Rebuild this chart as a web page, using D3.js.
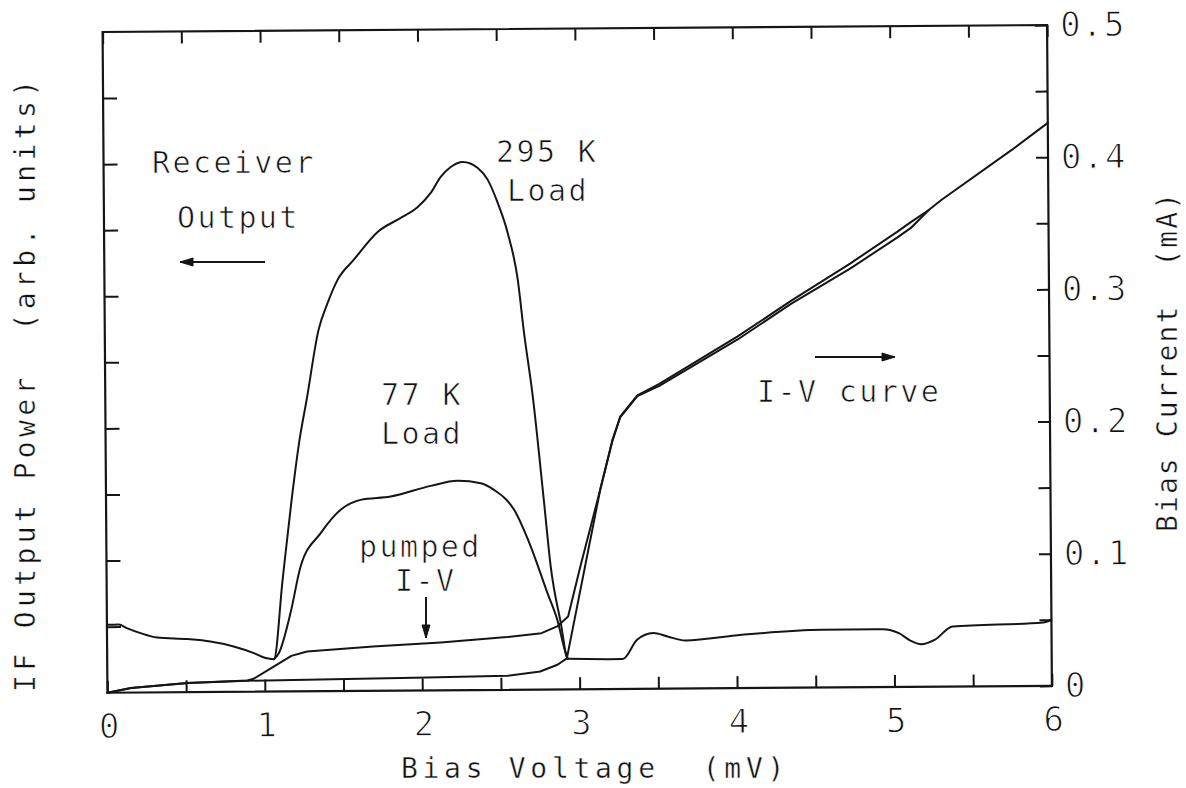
<!DOCTYPE html>
<html>
<head>
<meta charset="utf-8">
<script src="https://cdn.jsdelivr.net/npm/d3@7"></script>
<style>
  html, body { margin: 0; padding: 0; background: #fff; }
  svg { display: block; }
  text { font-family: "DejaVu Sans Mono", monospace; fill: #111; white-space: pre; stroke: #fff; stroke-width: 0.7px; }
  text.title { stroke-width: 0.4px; }
</style>
</head>
<body>
<svg id="chart" width="1186" height="788"></svg>
<script>
// ---------- data ----------
// Bias voltage ticks (mV) and right-axis current ticks (mA)
const xTickValues = [0, 0.5, 1, 1.5, 2, 2.5, 3, 3.5, 4, 4.5, 5, 5.5, 6];
const xTickLabels = ["0", "", "1", "", "2", "", "3", "", "4", "", "5", "", "6"];
const currentTickValues = [0, 0.05, 0.1, 0.15, 0.2, 0.25, 0.3, 0.35, 0.4, 0.45, 0.5];
const currentTickLabels = ["0", "", "0.1", "", "0.2", "", "0.3", "", "0.4", "", "0.5"];
const powerTickValues = [1, 2, 3, 4, 5, 6, 7, 8, 9];

// Unpumped I-V curve (mV, mA)
const ivBias = [0, 0.15, 0.51, 0.89, 2.03, 2.54, 2.75, 2.86, 2.92, 3.14, 3.22, 3.27, 3.38, 3.52, 4.02, 4.36, 4.74, 5.04, 5.13, 5.24, 5.32, 5.77, 6.0];
const ivCurrent = [0, 0.0034, 0.0069, 0.0083, 0.0098, 0.0106, 0.0137, 0.0187, 0.0235, 0.151, 0.188, 0.206, 0.222, 0.2306, 0.2661, 0.2927, 0.3208, 0.3445, 0.352, 0.3607, 0.3682, 0.4057, 0.426];

// Pumped I-V curve (mV, mA)
const pumpedBias = [0, 0.15, 0.51, 0.89, 0.93, 1.06, 1.17, 1.27, 1.69, 2.12, 2.54, 2.76, 2.86, 2.93, 3.01, 3.14, 3.22, 3.27, 3.38, 3.52, 4.02, 4.36, 4.74, 5.04, 5.13, 5.24];
const pumpedCurrent = [0, 0.0034, 0.0069, 0.0085, 0.0098, 0.019, 0.0269, 0.0301, 0.0335, 0.0362, 0.0399, 0.0427, 0.0477, 0.0551, 0.0929, 0.151, 0.1885, 0.2055, 0.2215, 0.2291, 0.2638, 0.2904, 0.317, 0.3402, 0.3477, 0.3607];

// Receiver IF output, 295 K load (mV, arb. units 0-10)
const hotBias = [0, 0.075, 0.126, 0.213, 0.318, 0.509, 0.657, 0.804, 0.932, 1.006, 1.059, 1.118, 1.179, 1.232, 1.279, 1.358, 1.417, 1.481, 1.584, 1.738, 1.885, 1.994, 2.077, 2.141, 2.205, 2.282, 2.377, 2.44, 2.502, 2.564, 2.626, 2.661, 2.716, 2.781, 2.822, 2.883, 2.926, 3.275, 3.367, 3.47, 3.561, 3.674, 4.031, 4.542, 4.928, 5.03, 5.103, 5.172, 5.257, 5.372, 5.947, 6.0];
const hotPower = [1.03, 1.03, 0.976, 0.899, 0.831, 0.803, 0.764, 0.687, 0.584, 0.507, 0.49, 1.69, 2.9, 3.805, 4.41, 5.468, 5.874, 6.222, 6.522, 6.944, 7.153, 7.318, 7.528, 7.769, 7.918, 7.993, 7.9, 7.719, 7.369, 6.914, 6.201, 5.445, 4.43, 2.87, 1.856, 1.008, 0.463, 0.452, 0.743, 0.843, 0.79, 0.726, 0.806, 0.873, 0.876, 0.814, 0.7, 0.644, 0.708, 0.908, 0.959, 1.0];

// Receiver IF output, 77 K load (mV, arb. units) - differs from 295 K only inside the gap region
const coldBias = [1.059, 1.091, 1.167, 1.233, 1.362, 1.49, 1.617, 1.808, 2.063, 2.233, 2.381, 2.465, 2.592, 2.696, 2.8, 2.861, 2.913, 2.926];
const coldPower = [0.49, 0.582, 1.189, 1.89, 2.392, 2.743, 2.891, 2.938, 3.095, 3.168, 3.13, 3.027, 2.723, 2.166, 1.458, 1.054, 0.549, 0.463];

// ---------- drawing ----------
const svg = d3.select("#chart");
svg.append("rect").attr("width", 1186).attr("height", 788).attr("fill", "#fff");

const L = 105, R = 1049.5, T = 28.5, B = 689.3;
const x = d3.scaleLinear().domain([0, 6]).range([L, R]);
const yI = d3.scaleLinear().domain([0, 0.5]).range([B, T]);
const yP = d3.scaleLinear().domain([0, 10]).range([B, T]);

// the scanned page is slightly tilted
const g = svg.append("g").attr("transform", "rotate(-0.42, 577, 359)");

const ink = "#151515";

// frame
g.append("rect").attr("x", L).attr("y", T).attr("width", R - L).attr("height", B - T)
  .attr("fill", "none").attr("stroke", ink).attr("stroke-width", 2.2);

function styleAxis(sel) {
  sel.select(".domain").remove();
  sel.selectAll(".tick line").attr("stroke", ink).attr("stroke-width", 2);
  sel.selectAll(".tick text").attr("fill", ink)
    .style("font-family", "'DejaVu Sans Mono', monospace")
    .style("font-size", "34px")
    .style("letter-spacing", "1.5px")
    .style("stroke", "#fff").style("stroke-width", "1.1px");
}

// bottom axis with labels, ticks pointing inward
g.append("g").attr("transform", `translate(0,${B})`)
  .call(d3.axisBottom(x).tickValues(xTickValues)
    .tickFormat((d, i) => xTickLabels[i]).tickSizeInner(-12).tickSizeOuter(0).tickPadding(21))
  .call(styleAxis)
  .selectAll(".tick text").attr("dx", "0.05em");

// top axis ticks
g.append("g").attr("transform", `translate(0,${T})`)
  .call(d3.axisTop(x).tickValues(xTickValues).tickFormat("").tickSizeInner(-12).tickSizeOuter(0))
  .call(styleAxis);

// left axis ticks (arbitrary units, unlabeled)
g.append("g").attr("transform", `translate(${L},0)`)
  .call(d3.axisLeft(yP).tickValues(powerTickValues).tickFormat("").tickSizeInner(-14).tickSizeOuter(0))
  .call(styleAxis);

// right axis (bias current)
const rightAxis = g.append("g").attr("transform", `translate(${R},0)`)
  .call(d3.axisRight(yI).tickValues(currentTickValues)
    .tickFormat((d, i) => currentTickLabels[i]).tickSizeInner(-12).tickSizeOuter(0).tickPadding(13))
  .call(styleAxis);
rightAxis.selectAll(".tick text").attr("text-anchor", "start");

// curves
const lineI = d3.line().x(d => x(d[0])).y(d => yI(d[1]));
const lineP = d3.line().x(d => x(d[0])).y(d => yP(d[1])).curve(d3.curveMonotoneX);

function drawCurve(path, data) {
  g.append("path").datum(data).attr("d", path)
    .attr("fill", "none").attr("stroke", ink).attr("stroke-width", 2)
    .attr("stroke-linejoin", "round").attr("stroke-linecap", "round");
}
drawCurve(lineI, d3.zip(ivBias, ivCurrent));
drawCurve(lineI, d3.zip(pumpedBias, pumpedCurrent));
drawCurve(lineP, d3.zip(hotBias, hotPower));
drawCurve(lineP, d3.zip(coldBias, coldPower));

// ---------- annotations (page coordinates) ----------
const ann = svg.append("g");
function label(txt, px, py, size, ls, cls) {
  ann.append("text").attr("x", px).attr("y", py)
    .attr("class", cls || null)
    .style("font-size", size + "px").style("letter-spacing", ls + "px")
    .text(txt);
}
label("Receiver", 152, 173, 30, 2.4);
label("Output", 177, 228, 30, 2.4);
label("295 K", 496, 162, 30, 2.4);
label("Load", 507, 201, 30, 2.4);
label("77 K", 381, 405, 30, 2.4);
label("Load", 381, 444, 30, 2.4);
label("pumped", 359, 557, 30, 2.4);
label("I-V", 395, 591, 30, 2.4);
label("I-V curve", 757, 402, 30, 2.4);

// axis titles
label("Bias Voltage  (mV)", 401, 778, 28, 4.7, "title");
ann.append("text").attr("class", "title").attr("transform", "translate(35,692) rotate(-90)")
  .style("font-size", "28px").style("letter-spacing", "4.4px")
  .text("IF Output Power  (arb. units)");
ann.append("text").attr("class", "title").attr("transform", "translate(1177,532) rotate(-90)")
  .style("font-size", "28px").style("letter-spacing", "2.1px")
  .text("Bias Current  (mA)");

// arrows
function arrow(x1, y1, x2, y2) {
  ann.append("line").attr("x1", x1).attr("y1", y1).attr("x2", x2).attr("y2", y2)
    .attr("stroke", ink).attr("stroke-width", 2);
  const a = Math.atan2(y2 - y1, x2 - x1), len = 13, w = 4;
  const bx = x2 - len * Math.cos(a), by = y2 - len * Math.sin(a);
  const nx = -Math.sin(a) * w, ny = Math.cos(a) * w;
  ann.append("path")
    .attr("d", `M${x2},${y2}L${bx + nx},${by + ny}L${bx - nx},${by - ny}Z`)
    .attr("fill", ink).attr("stroke", ink).attr("stroke-width", 1);
}
arrow(265, 262, 180, 262);
arrow(815, 357, 895, 357);
arrow(426, 597, 426, 638);
</script>
</body>
</html>
